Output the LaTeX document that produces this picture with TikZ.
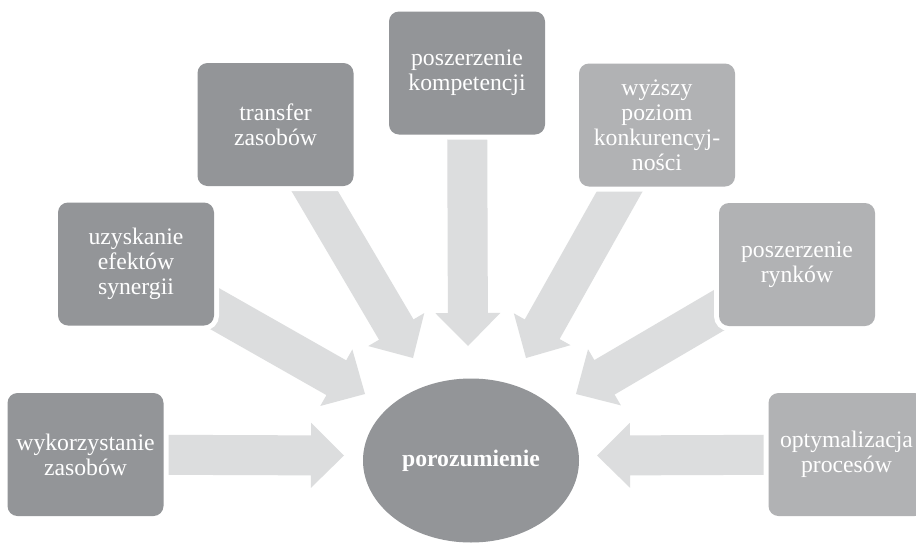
\documentclass[tikz,border=0pt]{standalone}
\usepackage{fontspec}
\setmainfont{Liberation Serif}
\usetikzlibrary{calc,shapes.geometric,backgrounds}
\definecolor{darkbox}{HTML}{939598}
\definecolor{lightbox}{HTML}{B1B2B4}
\definecolor{arrowgray}{HTML}{DCDDDE}
\newcommand{\blockarr}[2]{%
  \coordinate (#2-h) at ($(#2)!33pt!(#1)$);
  \fill[arrowgray]
    ($(#1)!20pt!90:(#2)$) -- ($(#2-h)!20pt!90:(#2)$) -- ($(#2-h)!32.5pt!90:(#2)$)
    -- (#2) --
    ($(#2-h)!32.5pt!-90:(#2)$) -- ($(#2-h)!20pt!-90:(#2)$) -- ($(#1)!20pt!-90:(#2)$) -- cycle;
}
\tikzset{
  box/.style={rectangle, rounded corners=10pt, minimum width=156pt, minimum height=123pt,
    inner sep=0pt, text width=152pt, align=center, text=white,
    font=\fontsize{23.7}{25}\selectfont,
    preaction={draw=white, line width=10pt}},
  darkb/.style={box, fill=darkbox},
  lightb/.style={box, fill=lightbox},
}
\begin{document}
\begin{tikzpicture}[x=1pt,y=-1pt]
\useasboundingbox (0,0) rectangle (916,544);
\clip (0,0) rectangle (916,544);

\node[darkb] (b1) at (85.5,454.5) {wykorzystanie\\zasobów};
\node[darkb] (b2) at (136,264) {uzyskanie\\efektów\\synergii};
\node[darkb] (b3) at (275.5,124.5) {transfer\\zasobów};
\node[darkb] (b4) at (467,73) {poszerzenie\\kompetencji};
\node[lightb] (b5) at (657,125) {wyższy\\poziom\\konkurencyj-\\ności};
\node[lightb] (b6) at (797,264.5) {poszerzenie\\rynków};
\node[lightb] (b7) at (846.5,454.5) {optymalizacja\\procesów};

\node[ellipse, fill=darkbox, minimum width=216pt, minimum height=164pt, inner sep=0pt,
  text=white, font=\fontsize{23.7}{25}\selectfont\bfseries] (e) at (471,460.5) {porozumienie};

\coordinate (t1) at (344,455.5);
\coordinate (t2) at (365,394);
\coordinate (t3) at (413,358);
\coordinate (t4) at (468,346);
\coordinate (t5) at (526,358);
\coordinate (t6) at (576,394);
\coordinate (t7) at (597,455.5);

\begin{pgfonlayer}{background}
\fill[white] (0,0) rectangle (916,544);
\blockarr{b1}{t1}
\blockarr{b2}{t2}
\blockarr{b3}{t3}
\blockarr{b4}{t4}
\blockarr{b5}{t5}
\blockarr{b6}{t6}
\blockarr{b7}{t7}
\end{pgfonlayer}
\end{tikzpicture}
\end{document}
